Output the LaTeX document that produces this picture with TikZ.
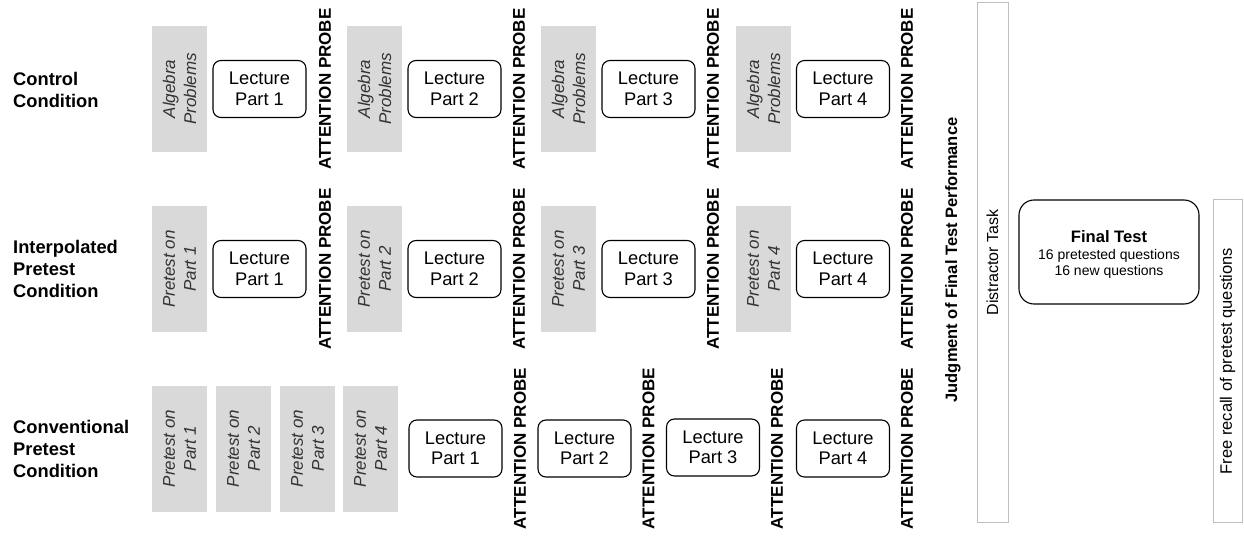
\documentclass[tikz,border=0pt]{standalone}
\usepackage{fontspec}
\setmainfont{Liberation Sans}
\begin{document}
\begin{tikzpicture}[x=1pt,y=-1pt,
  graybox/.style={fill=boxgray,draw=none,rotate=90,minimum width=126pt,minimum height=55pt,
    inner sep=0pt,align=center,font=\fontsize{17}{21}\selectfont\itshape,text=black!80},
  lecture/.style={draw=black,line width=1.1pt,rounded corners=8pt,minimum width=93pt,minimum height=57pt,
    inner sep=0pt,align=center,font=\fontsize{18.3}{20.5}\selectfont},
  probe/.style={rotate=90,inner sep=0pt,font=\fontsize{17}{19}\selectfont\bfseries},
  condlabel/.style={anchor=west,inner sep=0pt,align=left,font=\fontsize{18.3}{22}\selectfont\bfseries},
  outlinebox/.style={draw=linegray,line width=1pt}
]
\definecolor{boxgray}{HTML}{D9D9D9}
\definecolor{linegray}{HTML}{BFBFBF}
\useasboundingbox (0,0) rectangle (1244,537);

% Row 1: Control
\node[condlabel] (lab1) at (13,90) {Control\\Condition};
\node[graybox] (g11) at (179.5,89) {Algebra\\Problems};
\node[lecture] (l11) at (259.5,89) {Lecture\\Part 1};
\node[probe] (p11) at (325,89) {ATTENTION PROBE};
\node[graybox] (g12) at (374.5,89) {Algebra\\Problems};
\node[lecture] (l12) at (454.5,89) {Lecture\\Part 2};
\node[probe] (p12) at (519,89) {ATTENTION PROBE};
\node[graybox] (g13) at (568.5,89) {Algebra\\Problems};
\node[lecture] (l13) at (648.5,89) {Lecture\\Part 3};
\node[probe] (p13) at (713,89) {ATTENTION PROBE};
\node[graybox] (g14) at (763.5,89) {Algebra\\Problems};
\node[lecture] (l14) at (843,89) {Lecture\\Part 4};
\node[probe] (p14) at (907,89) {ATTENTION PROBE};

% Row 2: Interpolated
\node[condlabel] (lab2) at (13,269) {Interpolated\\Pretest\\Condition};
\node[graybox] (g21) at (179.5,269) {Pretest on\\Part 1};
\node[lecture] (l21) at (259.5,269) {Lecture\\Part 1};
\node[probe] (p21) at (325,269) {ATTENTION PROBE};
\node[graybox] (g22) at (374.5,269) {Pretest on\\Part 2};
\node[lecture] (l22) at (454.5,269) {Lecture\\Part 2};
\node[probe] (p22) at (519,269) {ATTENTION PROBE};
\node[graybox] (g23) at (568.5,269) {Pretest on\\Part 3};
\node[lecture] (l23) at (648.5,269) {Lecture\\Part 3};
\node[probe] (p23) at (713,269) {ATTENTION PROBE};
\node[graybox] (g24) at (763.5,269) {Pretest on\\Part 4};
\node[lecture] (l24) at (843,269) {Lecture\\Part 4};
\node[probe] (p24) at (907,269) {ATTENTION PROBE};

% Row 3: Conventional
\node[condlabel] (lab3) at (13,449) {Conventional\\Pretest\\Condition};
\node[graybox] (g31) at (179.5,448.5) {Pretest on\\Part 1};
\node[graybox] (g32) at (243.5,448.5) {Pretest on\\Part 2};
\node[graybox] (g33) at (307.5,448.5) {Pretest on\\Part 3};
\node[graybox] (g34) at (370.5,448.5) {Pretest on\\Part 4};
\node[lecture] (l31) at (455.5,448.5) {Lecture\\Part 1};
\node[probe] (p31) at (520,448.5) {ATTENTION PROBE};
\node[lecture] (l32) at (584.5,448.5) {Lecture\\Part 2};
\node[probe] (p32) at (648.5,448.5) {ATTENTION PROBE};
\node[lecture] (l33) at (713,447.5) {Lecture\\Part 3};
\node[probe] (p33) at (777,448.5) {ATTENTION PROBE};
\node[lecture] (l34) at (843,448.5) {Lecture\\Part 4};
\node[probe] (p34) at (907,448.5) {ATTENTION PROBE};

% Right section
\node[probe,font=\fontsize{16.5}{19}\selectfont\bfseries] (judg) at (953,260) {Judgment of Final Test Performance};
\node[outlinebox,minimum width=31pt,minimum height=519pt,inner sep=0pt] (dist) at (992.5,262.5) {};
\node[rotate=90,inner sep=0pt,font=\fontsize{16}{19}\selectfont] (distt) at (dist.center) {Distractor Task};
\node[draw=black,line width=1.1pt,rounded corners=15pt,minimum width=180pt,minimum height=104pt,inner sep=0pt] (final) at (1109,252) {};
\node[inner sep=0pt,font=\fontsize{16.6}{19}\selectfont\bfseries] (finalt) at (1109,237) {Final Test};
\node[inner sep=0pt,align=center,font=\fontsize{14}{16}\selectfont,anchor=north] (finals) at (1109,249) {16 pretested questions\\16 new questions};
\node[outlinebox,minimum width=29pt,minimum height=322pt,inner sep=0pt] (free) at (1227.5,361) {};
\node[rotate=90,inner sep=0pt,font=\fontsize{16.5}{19}\selectfont] (freet) at (free.center) {Free recall of pretest questions};
\end{tikzpicture}
\end{document}
